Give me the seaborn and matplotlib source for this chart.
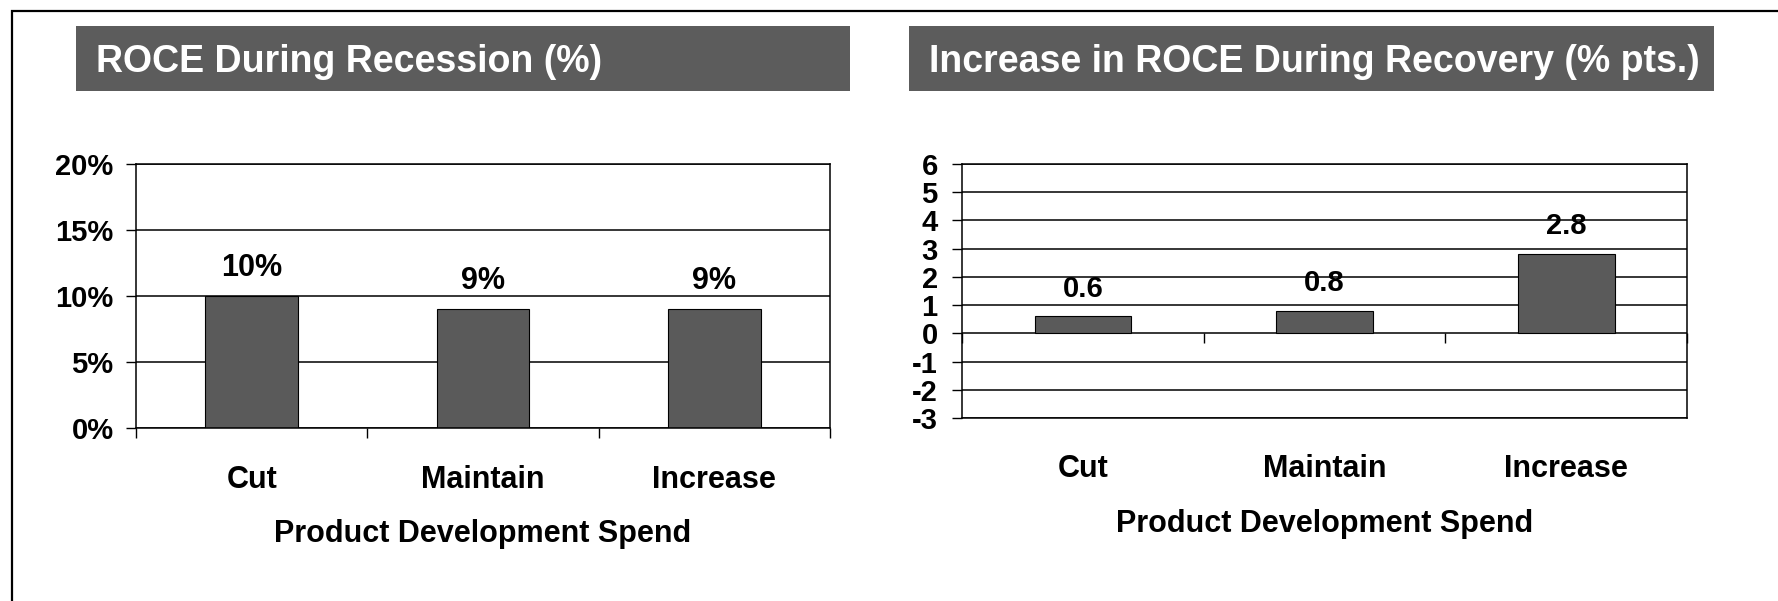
import matplotlib
matplotlib.use("Agg")
import matplotlib.pyplot as plt
from matplotlib.patches import Rectangle
import seaborn as sns
import pandas as pd

# ---- data ----
categories = ["Cut", "Maintain", "Increase"]
roce_recession = [10, 9, 9]            # ROCE during recession, %
roce_recovery_gain = [0.6, 0.8, 2.8]   # increase in ROCE during recovery, % pts
recession_labels = ["10%", "9%", "9%"]
recovery_labels = ["0.6", "0.8", "2.8"]
recession_yticks = [0, 5, 10, 15, 20]
recovery_yticks = [-3, -2, -1, 0, 1, 2, 3, 4, 5, 6]
titles = ["ROCE During Recession (%)", "Increase in ROCE During Recovery (% pts.)"]
xlabel = "Product Development Spend"

plt.rcParams["font.family"] = ["Liberation Sans", "DejaVu Sans"]
plt.rcParams["font.weight"] = "bold"
plt.rcParams["axes.unicode_minus"] = False

W, H = 1778, 601
fig = plt.figure(figsize=(W / 100, H / 100), dpi=100)


def fx(px):
    return px / W


def fy(py):
    return 1 - py / H


BAR = "#5a5a5a"
BANNER = "#5c5c5c"

# page frame (only the left and top edges fall inside the canvas)
fig.add_artist(Rectangle((fx(12), -0.5), 2.0, fy(11) + 0.5, fill=False,
                         edgecolor="black", linewidth=1.6,
                         transform=fig.transFigure, clip_on=False))

# title banners
for (x0, x1, tx), title in zip([(76, 850, 96), (909, 1714, 929)], titles):
    fig.add_artist(Rectangle((fx(x0), fy(91)), fx(x1) - fx(x0), fy(26) - fy(91),
                             facecolor=BANNER, edgecolor="none",
                             transform=fig.transFigure))
    fig.text(fx(tx), fy(72), title, color="white", fontsize=27,
             fontweight="bold", ha="left", va="baseline")

ax1 = fig.add_axes([fx(136), fy(428), fx(830) - fx(136), fy(164) - fy(428)])
ax2 = fig.add_axes([fx(962), fy(418), fx(1687) - fx(962), fy(164) - fy(418)])


def style_axes(ax, yticks, ylabels, ysize, ypad, catpad):
    ax.set_axisbelow(True)
    ax.yaxis.grid(True, color="black", linewidth=1.1)
    ax.xaxis.grid(False)
    for sp in ax.spines.values():
        sp.set_visible(True)
        sp.set_color("black")
        sp.set_linewidth(1.1)
    ax.set_ylim(yticks[0], yticks[-1])
    ax.set_yticks(yticks)
    ax.set_yticklabels(ylabels)
    ax.tick_params(axis="y", left=True, length=7.5, width=1.0, direction="out",
                   pad=ypad, labelsize=ysize, colors="black")
    ax.set_xlim(-0.5, len(categories) - 0.5)
    ax.set_xticks(range(len(categories)))
    ax.set_xticklabels(categories)
    ax.tick_params(axis="x", which="major", bottom=True, length=0,
                   pad=catpad, labelsize=22, colors="black")
    ax.set_xlabel(xlabel, fontsize=22, fontweight="bold")
    ax.set_ylabel("")
    for lab in ax.get_xticklabels() + ax.get_yticklabels():
        lab.set_fontweight("bold")


# ---- left panel: ROCE during recession ----
df1 = pd.DataFrame({"spend": categories, "roce": roce_recession})
sns.barplot(data=df1, x="spend", y="roce", color=BAR, saturation=1, width=0.4,
            edgecolor="black", linewidth=0.8, ax=ax1)
style_axes(ax1, recession_yticks, [f"{v}%" for v in recession_yticks],
           21, 8.6, 27)
bounds = [i - 0.5 for i in range(len(categories) + 1)]
ax1.set_xticks(bounds, minor=True)
ax1.tick_params(axis="x", which="minor", bottom=True, length=7.5, width=1.0,
                direction="out", color="black")
ax1.bar_label(ax1.containers[0], labels=recession_labels, padding=9.5,
              fontsize=22, fontweight="bold")
ax1.xaxis.set_label_coords(0.5, (428 - 541.7) / 264)
ax1.xaxis.label.set_va("baseline")

# ---- right panel: increase in ROCE during recovery ----
df2 = pd.DataFrame({"spend": categories, "gain": roce_recovery_gain})
sns.barplot(data=df2, x="spend", y="gain", color=BAR, saturation=1, width=0.4,
            edgecolor="black", linewidth=0.8, ax=ax2)
style_axes(ax2, recovery_yticks, [str(v) for v in recovery_yticks],
           21, 10, 25.6)
ax2.bar_label(ax2.containers[0], labels=recovery_labels, padding=10,
              fontsize=21, fontweight="bold")
ax2.xaxis.set_label_coords(0.5, (418 - 531.7) / 254)
ax2.xaxis.label.set_va("baseline")

# category boundary ticks hang from the zero line
zero_axis = ax2.secondary_xaxis(0, transform=ax2.transData)
zero_axis.set_xticks(bounds)
zero_axis.tick_params(axis="x", bottom=True, length=7.5, width=1.0,
                      direction="out", color="black", labelbottom=False)
zero_axis.spines["bottom"].set_visible(False)

fig.savefig("out.png", dpi=100, facecolor="white")
